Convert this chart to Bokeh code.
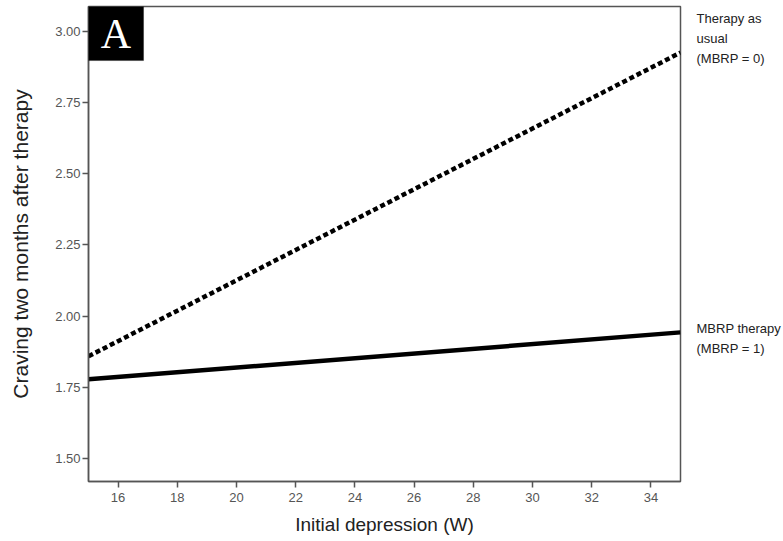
from bokeh.plotting import figure
from bokeh.models import Range1d, FixedTicker, NumeralTickFormatter, Label, BoxAnnotation, LinearAxis
from bokeh.embed import file_html
from bokeh.resources import INLINE

# Data
depression = [15, 35]
craving_tau = [1.859, 2.926]   # Therapy as usual (MBRP = 0)
craving_mbrp = [1.778, 1.943]  # MBRP therapy (MBRP = 1)
x_ticks = [16, 18, 20, 22, 24, 26, 28, 30, 32, 34]
y_ticks = [1.50, 1.75, 2.00, 2.25, 2.50, 2.75, 3.00]
right_texts = ["Therapy as", "usual", "(MBRP = 0)", "MBRP therapy", "(MBRP = 1)"]
right_pos = [3.046, 2.976, 2.906, 1.957, 1.887]

FONT = "Liberation Sans"
GREY = "#555555"
INK = "#222222"
Y0, Y1 = 1.419, 3.088

p = figure(width=775, height=533, output_backend="svg", toolbar_location=None,
           x_range=Range1d(15, 35), y_range=Range1d(Y0, Y1),
           min_border_left=88, min_border_right=95, min_border_top=6, min_border_bottom=52)
p.frame_width = 592
p.frame_height = 475

p.grid.visible = False
p.outline_line_color = GREY
p.outline_line_width = 1.5
p.background_fill_color = "white"
p.border_fill_color = "white"

for ax in (p.xaxis[0], p.yaxis[0]):
    ax.axis_line_color = GREY
    ax.axis_line_width = 1.5
    ax.major_tick_line_color = GREY
    ax.major_tick_line_width = 1.5
    ax.major_tick_out = 6
    ax.major_tick_in = 0
    ax.minor_tick_line_color = None
    ax.major_label_text_font = FONT
    ax.major_label_text_font_size = "13px"
    ax.major_label_text_color = GREY
    ax.axis_label_text_font = FONT
    ax.axis_label_text_font_style = "normal"
    ax.axis_label_text_color = INK

p.xaxis.ticker = FixedTicker(ticks=x_ticks)
p.yaxis.ticker = FixedTicker(ticks=y_ticks)
p.yaxis.formatter = NumeralTickFormatter(format="0.00")
p.xaxis.major_label_standoff = 5
p.yaxis.major_label_standoff = 2

p.yaxis.axis_label = "Craving two months after therapy"
p.yaxis.axis_label_text_font_size = "21px"
p.yaxis.axis_label_standoff = 20
p.xaxis.axis_label = "Initial depression (W)"
p.xaxis.axis_label_text_font_size = "19px"
p.xaxis.axis_label_standoff = 9

# Right-side line annotations, drawn as an unticked axis
rax = LinearAxis(ticker=FixedTicker(ticks=right_pos),
                 major_label_overrides={v: t for v, t in zip(right_pos, right_texts)},
                 axis_line_color=None, major_tick_line_color=None, minor_tick_line_color=None,
                 major_label_text_font=FONT, major_label_text_font_size="13px",
                 major_label_text_color=INK, major_label_standoff=10)
p.add_layout(rax, "right")

p.line(depression, craving_tau, line_color="black", line_width=4.5, line_dash="5 3")
p.line(depression, craving_mbrp, line_color="black", line_width=4.5)

# Panel letter box
p.add_layout(BoxAnnotation(left=15, right=16.86, top=Y1, bottom=2.898,
                           fill_color="black", fill_alpha=1, line_color="black"))
p.add_layout(Label(x=15.93, y=2.993, text="A", text_color="white", text_font="Liberation Serif",
                   text_font_size="42px", text_align="center", text_baseline="middle"))

open("out.html", "w").write(file_html(p, INLINE))
